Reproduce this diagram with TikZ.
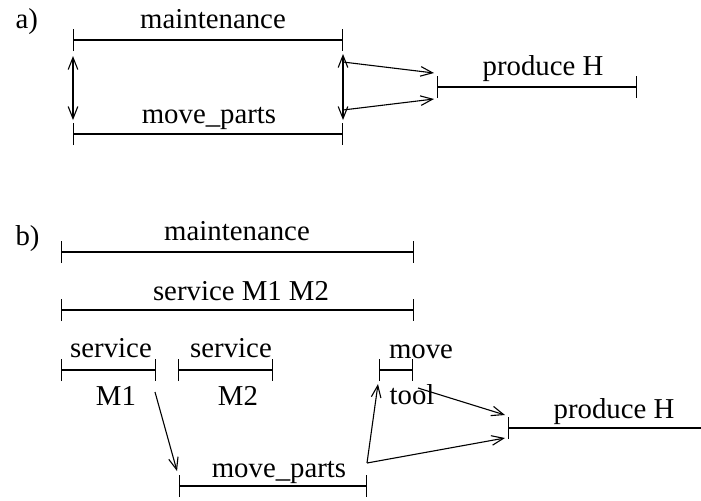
\documentclass[tikz,border=0pt]{standalone}
\usepackage{fontspec}
\setmainfont{Liberation Serif}
\usetikzlibrary{arrows.meta}
\begin{document}
\begin{tikzpicture}[x=0.5pt,y=-0.5pt,
  every path/.style={line width=0.55pt},
  span/.style={{Bar[width=11pt]}-{Bar[width=11pt]}},
  openspan/.style={{Bar[width=11pt]}-},
  txt/.style={font=\fontsize{14.4}{16}\selectfont, inner sep=0pt, anchor=base},
  tag/.style={font=\fontsize{14.4}{16}\selectfont, inner sep=0pt, anchor=base west},
  arr/.style={-{Straight Barb[length=6pt,width=4.8pt]}},
  dbl/.style={{Straight Barb[length=6pt,width=4.8pt]}-{Straight Barb[length=6pt,width=4.8pt]}}]
\path[use as bounding box] (0,0) rectangle (701,500);

% ---------------- part a) ----------------
\node[tag] (ta) at (15,28) {a)};

\coordinate (amL) at (73,40);   \coordinate (amR) at (343,40);
\coordinate (apL) at (73,134);  \coordinate (apR) at (343,134);
\coordinate (ahL) at (437,87);  \coordinate (ahR) at (637,87);
\draw[span] (amL) -- (amR);
\draw[span] (apL) -- (apR);
\draw[span] (ahL) -- (ahR);
\node[txt] (amt) at (213,28) {maintenance};
\node[txt] (apt) at (209,123) {move\_parts};
\node[txt] (aht) at (543,75) {produce H};

% links between the two spans
\coordinate (alT) at (73,56);  \coordinate (alB) at (73,120);
\coordinate (arT) at (343,54); \coordinate (arB) at (343,120);
\draw[dbl] (alT) -- (alB);
\draw[dbl] (arT) -- (arB);
\coordinate (ar1) at (343,62);  \coordinate (ah1) at (434,73);
\coordinate (ar2) at (343,110); \coordinate (ah2) at (434,99);
\draw[arr] (ar1) -- (ah1);
\draw[arr] (ar2) -- (ah2);

% ---------------- part b) ----------------
\node[tag] (tb) at (15,245) {b)};

\coordinate (bmL) at (61,252);  \coordinate (bmR) at (414,252);
\coordinate (bsL) at (61,310);  \coordinate (bsR) at (414,310);
\coordinate (b1L) at (61,370);  \coordinate (b1R) at (156,370);
\coordinate (b2L) at (178,370); \coordinate (b2R) at (273,370);
\coordinate (btL) at (379,370); \coordinate (btR) at (413,370);
\coordinate (bpL) at (179,486); \coordinate (bpR) at (367,486);
\coordinate (bhL) at (508,428); \coordinate (bhR) at (701,428);
\draw[span] (bmL) -- (bmR);
\draw[span] (bsL) -- (bsR);
\draw[span] (b1L) -- (b1R);
\draw[span] (b2L) -- (b2R);
\draw[span] (btL) -- (btR);
\draw[span] (bpL) -- (bpR);
\draw[openspan] (bhL) -- (bhR);

\node[txt] (bmt)  at (237,240) {maintenance};
\node[txt] (bst)  at (241,300) {service M1 M2};
\node[txt] (b1t)  at (111,357) {service};
\node[txt] (b1b)  at (116,405) {M1};
\node[txt] (b2t)  at (231,357) {service};
\node[txt] (b2b)  at (238,405) {M2};
\node[txt] (btt)  at (421,358) {move};
\node[txt] (btb)  at (412,404) {tool};
\node[txt] (bpt)  at (279,477) {move\_parts};
\node[txt] (bht)  at (614,418) {produce H};

% precedence arrows
\coordinate (c1) at (155,392); \coordinate (c2) at (177,471);
\coordinate (c3) at (367,463); \coordinate (c4) at (378,384);
\coordinate (c5) at (505,438);
\coordinate (c6) at (418,388); \coordinate (c7) at (505,415);
\draw[arr] (c1) -- (c2);
\draw[arr] (c3) -- (c4);
\draw[arr] (c3) -- (c5);
\draw[arr] (c6) -- (c7);
\end{tikzpicture}
\end{document}
